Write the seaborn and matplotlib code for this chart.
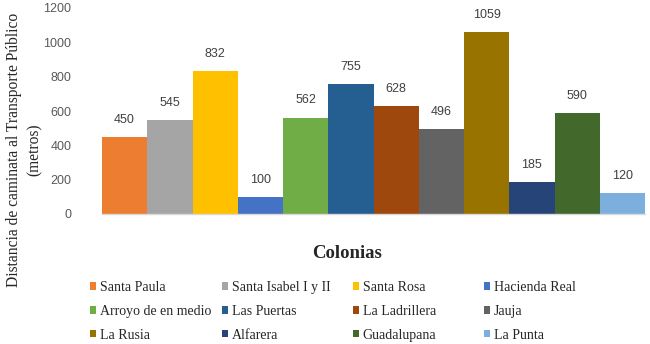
import matplotlib
matplotlib.use("Agg")
import matplotlib.pyplot as plt
from matplotlib.patches import Patch
import seaborn as sns
import pandas as pd

# datos
colonias = ["Santa Paula", "Santa Isabel I y II", "Santa Rosa", "Hacienda Real",
            "Arroyo de en medio", "Las Puertas", "La Ladrillera", "Jauja",
            "La Rusia", "Alfarera", "Guadalupana", "La Punta"]
distancias = [450, 545, 832, 100, 562, 755, 628, 496, 1059, 185, 590, 120]
colores = ["#ED7D31", "#A5A5A5", "#FFC000", "#4472C4", "#70AD47", "#255E91",
           "#9E480E", "#636363", "#997300", "#264478", "#43682B", "#7CAFDD"]

df = pd.DataFrame({"colonia": colonias, "distancia": distancias})

sns.set_style("white")
plt.rcParams["font.family"] = ["Liberation Sans", "DejaVu Sans"]

fig = plt.figure(figsize=(6.5, 3.44), dpi=100)
ax = fig.add_axes([102 / 650, 1 - 214 / 344, 543 / 650, 206 / 344])

sns.barplot(data=df, x="colonia", y="distancia", hue="colonia", palette=colores,
            saturation=1, width=1, linewidth=0, legend=False, ax=ax)

for c in ax.containers:
    ax.bar_label(c, padding=8, fontsize=9, color="#404040")

ax.set_xlim(-0.5, 11.5)
ax.set_ylim(0, 1200)
ax.set_yticks(range(0, 1201, 200))
ax.tick_params(axis="y", labelsize=9, labelcolor="#595959", length=0, pad=22)
ax.set_xticks([])
ax.set_xlabel("")
ax.set_ylabel("")
for s in ["top", "right", "left"]:
    ax.spines[s].set_visible(False)
ax.spines["bottom"].set_color("#D9D9D9")
ax.spines["bottom"].set_linewidth(1)

serif = ["Liberation Serif", "DejaVu Serif"]
fig.text(24 / 650, 1 - 150 / 344,
         "Distancia de caminata al Transporte Público\n(metros)",
         rotation=90, ha="center", va="center", ma="center",
         fontsize=11.2, family=serif, linespacing=1.4)
fig.text(347 / 650, 1 - 253 / 344, "Colonias", ha="center", va="center",
         fontsize=13.5, fontweight="bold", family=serif)

# leyenda en 4 columnas de ancho fijo
col_x = [90, 222, 353, 484]
for j in range(4):
    idx = [j, j + 4, j + 8]
    handles = [Patch(facecolor=colores[i], edgecolor="none") for i in idx]
    labels = [colonias[i] for i in idx]
    fig.legend(handles, labels, loc="upper left",
               bbox_to_anchor=(col_x[j] / 650, 1 - 281 / 344),
               frameon=False, ncol=1, handlelength=0.45, handleheight=0.45,
               handletextpad=0.25, labelspacing=0.78, borderaxespad=0,
               borderpad=0, prop={"family": serif, "size": 10})

fig.savefig("out.png", dpi=100)
